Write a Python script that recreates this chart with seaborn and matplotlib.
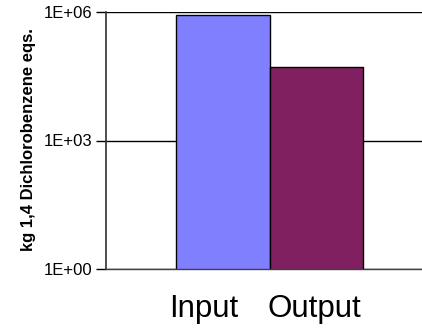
import matplotlib
matplotlib.use("Agg")
import matplotlib.pyplot as plt
import matplotlib.transforms as mtransforms
import seaborn as sns
import pandas as pd

categories = ["Input", "Output"]
values = [8.4e5, 5.1e4]
colors = ["#8080FF", "#802060"]
ytick_values = [1, 1e3, 1e6]
ytick_labels = ["1E+00", "1E+03", "1E+06"]
ylabel = "kg 1,4 Dichlorobenzene eqs."

sns.set_theme(style="white")
plt.rcParams["font.family"] = ["Liberation Sans", "DejaVu Sans"]

df = pd.DataFrame({"cat": categories, "val": values})

fig = plt.figure(figsize=(4.22, 3.30), dpi=100)
ax = fig.add_axes([106 / 422, 1 - 269 / 330, 1 - 106 / 422, (269 - 12) / 330])

sns.barplot(data=df, x="cat", y="val", hue="cat", palette=colors, width=1.0,
            edgecolor="black", linewidth=1.0, legend=False, ax=ax, saturation=1)

ax.set_yscale("log")
ax.set_ylim(1, 1e6)
ax.set_xlim(-1.25, 2.13)
ax.set_yticks(ytick_values)
ax.set_yticklabels(ytick_labels, fontsize=12)
ax.minorticks_off()
ax.yaxis.grid(True, color="black", linewidth=1.0)
ax.set_axisbelow(True)

for s in ["top", "right"]:
    ax.spines[s].set_visible(False)
ax.spines["left"].set_color("#303030")
ax.spines["left"].set_linewidth(1.2)
ax.spines["bottom"].set_color("#404040")
ax.spines["bottom"].set_linewidth(1.0)

ax.tick_params(axis="y", which="major", left=True, length=7, width=1, color="black",
               pad=3, labelcolor="black")
ax.tick_params(axis="x", bottom=False, pad=12, labelsize=22.5, labelcolor="black")

ax.set_xlabel("")
ax.set_ylabel(ylabel, fontsize=12, fontweight="bold", color="black")
ax.yaxis.set_label_coords(-0.22, 0.505)

# Shift tick labels to match reference placement
offs = [-19, -2]
for lbl, dx in zip(ax.get_xticklabels(), offs):
    lbl.set_transform(lbl.get_transform() + mtransforms.ScaledTranslation(dx / 100, 0, fig.dpi_scale_trans))

fig.savefig("out.png", dpi=100)
